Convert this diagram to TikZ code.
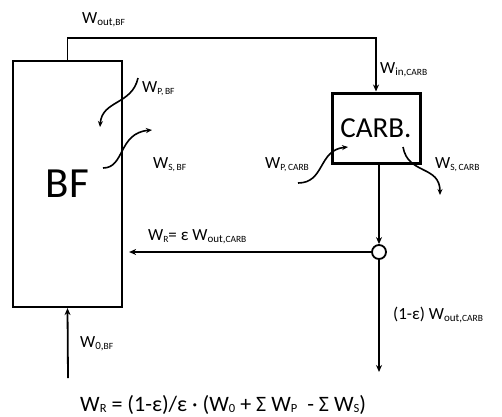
\documentclass[tikz,border=0pt]{standalone}
\usepackage{fontspec}
\setmainfont{Carlito}
\usetikzlibrary{arrows.meta}

% subscripts of the flow labels, caps set a little smaller
\newcommand{\sbx}[1]{\raisebox{-2pt}{\fontsize{11}{11}\selectfont #1}}
\newcommand{\cp}[1]{{\fontsize{9.5}{9.5}\selectfont #1}}
\newcommand{\sbe}[1]{\raisebox{-1.5pt}{\fontsize{12.5}{12.5}\selectfont #1}}

\begin{document}
\begin{tikzpicture}[x=1pt, y=-1pt,
  unit/.style  ={draw, line width=2.2pt, inner sep=0pt},
  mix/.style   ={draw, circle, line width=1.8pt, minimum size=14pt, inner sep=0pt},
  flow/.style  ={-{Stealth[length=7pt,width=6pt]}, line width=1.8pt},
  wiggle/.style={-{Stealth[length=6pt,width=5pt]}, line width=1.6pt},
  lbl/.style   ={anchor=base west, inner sep=0pt, font=\fontsize{17}{17}\selectfont},
]
\useasboundingbox (0,0) rectangle (502,416);

% ============================ units =========================================
\node[unit, minimum width=109pt, minimum height=246pt,
      font=\fontsize{43}{43}\selectfont] (bf) at (67.5,184) {BF};
\node[unit, line width=3pt, minimum width=88pt, minimum height=70pt,
      font=\fontsize{29}{29}\selectfont] (carb) at (376,128) {CARB.};
\node[mix] (spl) at (379,252) {};

\coordinate (feed) at (68,378);
\coordinate (prod) at (379,372);

% ============================ main streams ==================================
\draw[flow] (bf.north) -- ++(0,-22) -| (carb.north);
\draw[flow] (carb.south -| spl) -- (spl.north);
\draw[flow, shorten >=6pt] (spl.west) -- (bf.east |- spl);
\draw[flow] (spl.south) -- (prod);
\draw[flow] (feed) -- (bf.south);

% ============================ side streams (P in, S out) ====================
\coordinate (pbf0)   at (138,78);  \coordinate (pbf1)   at (100,127);
\coordinate (sbf0)   at (103,168); \coordinate (sbf1)   at (152,130);
\coordinate (pcarb0) at (298,183); \coordinate (pcarb1) at (348,147);
\coordinate (scarb0) at (403,147); \coordinate (scarb1) at (440,195);

\draw[wiggle] (pbf0)   .. controls +(-6,27) and +(2,-27) .. (pbf1);
\draw[wiggle] (sbf0)   .. controls +(22,0)  and +(-34,3) .. (sbf1);
\draw[wiggle] (pcarb0) .. controls +(27,0)  and +(-30,3) .. (pcarb1);
\draw[wiggle] (scarb0) .. controls +(5,28)  and +(0,-30) .. (scarb1);

% ============================ labels ========================================
\node[lbl] (loutbf)   at (82,23)   {W\sbx{out,\cp{BF}}};
\node[lbl] (lincarb)  at (380,73)  {W\sbx{in,\cp{CARB}}};
\node[lbl] (lpbf)     at (142,92)  {W\sbx{\cp{P,\,BF}}};
\node[lbl] (lsbf)     at (153,168) {W\sbx{\cp{S,\,BF}}};
\node[lbl] (lpcarb)   at (265,168) {W\sbx{\cp{P,\,CARB}}};
\node[lbl] (lscarb)   at (435,168) {W\sbx{\cp{S,\,CARB}}};
\node[lbl] (lrec)     at (148,240) {W\sbx{\cp{R}}= ε W\sbx{out,\cp{CARB}}};
\node[lbl] (lfeed)    at (80,347)  {W\sbx{0,\cp{BF}}};
\node[lbl] (lprod)    at (393,319) {(1-ε) W\sbx{out,\cp{CARB}}};

\node[lbl, font=\fontsize{22}{22}\selectfont] (balance) at (80,411)
  {W\sbe{R} = (1-ε)/ε · (W\sbe{0} + Σ W\sbe{P}\ \ - Σ W\sbe{S})};

\end{tikzpicture}
\end{document}
